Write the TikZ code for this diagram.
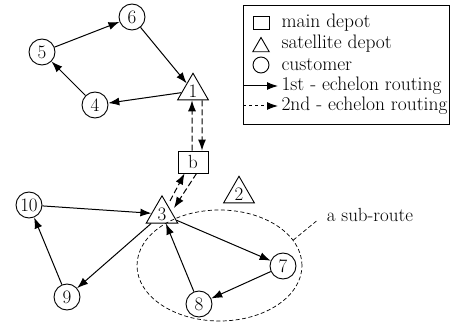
\documentclass[tikz,border=0pt]{standalone}
\usepackage{tikz}
\usetikzlibrary{
    arrows.meta,
    shapes,
    shapes.geometric,
    calc,
    positioning
}

\tikzset{
    lbl/.style={font=\fontsize{19.5}{22}\selectfont},
    num/.style={font=\fontsize{19}{22}\selectfont},
    cust/.style={num, circle, draw, line width=0.9pt, minimum size=26, inner sep=1pt},
    sat/.style={num, regular polygon, regular polygon sides=3, draw, line width=0.9pt, minimum size=30, inner sep=0pt},
    depot/.style={num, rectangle, draw, line width=0.9pt, minimum width=30, minimum height=22, inner sep=1pt},
    route/.style={line width=1pt, -{Latex[length=11pt,width=8pt]}},
    route2/.style={route, dash pattern=on 6pt off 3pt}
}

\begin{document}
\begin{tikzpicture}[x=1pt, y=-1pt]
    \useasboundingbox (0,0) rectangle (453,326);

    % depots
    \node[depot] (b) at (193,162) {b};
    \node[sat] (1) at (193,91) {1};
    \node[sat] (2) at (239,194) {2};
    \node[sat] (3) at (162,214) {3};

    % customers
    \node[cust] (4) at (95,105) {4};
    \node[cust] (5) at (42,52) {5};
    \node[cust] (6) at (132,17) {6};
    \node[cust] (7) at (283,266) {7};
    \node[cust] (8) at (199,304) {8};
    \node[cust] (9) at (67,297) {9};
    \node[cust] (10) at (29,205) {10};

    % 1st echelon
    \draw[route2] ([xshift=-1]b.north) -- ([xshift=-1]1.south);
    \draw[route2] ([xshift=9]1.south) -- ([xshift=9]b.north);
    \draw[route2] ([shift={(8,-13)}]3.center) -- ([xshift=7]b.south west);
    \draw[route2] ([xshift=19]b.south west) -- ([shift={(12,-6)}]3.center);

    % 2nd echelon
    \draw[route] (6) -- (1);
    \draw[route] (1) -- (4);
    \draw[route] (4) -- (5);
    \draw[route] (5) -- (6);
    \draw[route] (10) -- (3);
    \draw[route] (3) -- (9);
    \draw[route] (9) -- (10);
    \draw[route] (3) -- (7);
    \draw[route] (7) -- (8);
    \draw[route] (8) -- (3);

    % sub-route
    \node[ellipse, draw, line width=0.7pt, dash pattern=on 4pt off 2.5pt,
          minimum width=165, minimum height=111] (sub) at (219.5,265.5) {};
    \node[num] (sublbl) at (370,215) {a sub-route};
    \draw[line width=0.7pt, dash pattern=on 4pt off 2.5pt] (sub.19) -- ([shift={(-6,-5)}]sublbl.south west);

    % legend
    \draw[line width=0.9pt] (243,5) rectangle (449,124);
    \node[depot, minimum width=16, minimum height=13] (lsq) at (261,23) {};
    \node[sat, minimum size=19] (ltri) at (261,47) {};
    \node[cust, minimum size=16] (lcir) at (261,65) {};
    \coordinate (la1) at (243,86);
    \coordinate (lb1) at (278,86);
    \coordinate (la2) at (243,106);
    \coordinate (lb2) at (278,106);
    \draw[route] (la1) -- (lb1);
    \draw[route, dash pattern=on 3pt off 3pt] (la2) -- (lb2);
    \node[lbl, anchor=west] (t1) at (278,23) {main depot};
    \node[lbl, anchor=west] (t2) at (278,44) {satellite depot};
    \node[lbl, anchor=west] (t3) at (278,65) {customer};
    \node[lbl, anchor=west] (t4) at (278,86) {1st - echelon routing};
    \node[lbl, anchor=west] (t5) at (278,106) {2nd - echelon routing};
\end{tikzpicture}
\end{document}
